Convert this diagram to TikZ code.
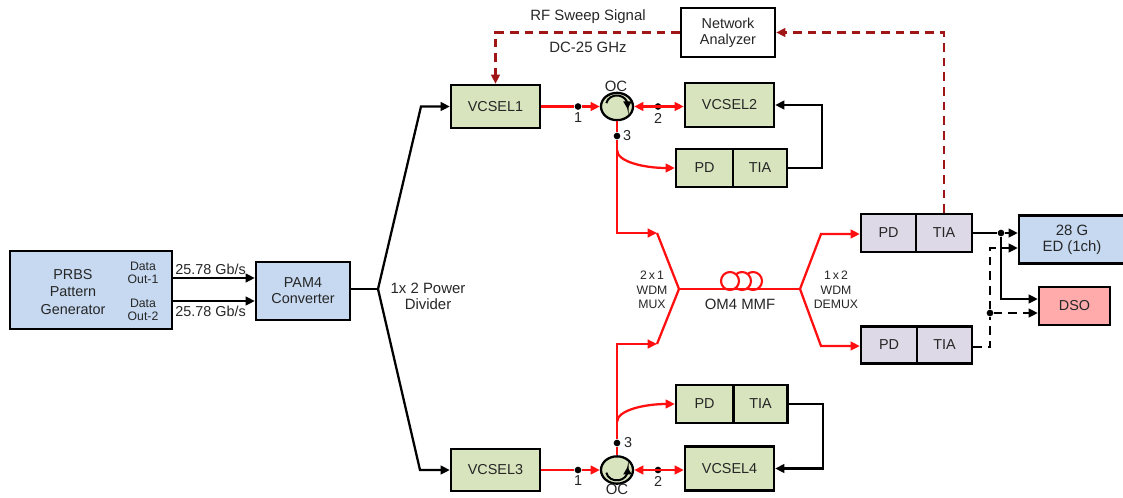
\documentclass[tikz,border=0pt]{standalone}
\usepackage{fontspec}
\setmainfont{Liberation Sans}
\usetikzlibrary{arrows.meta,calc,shapes.geometric}
\definecolor{gbox}{HTML}{D7E4BD}
\definecolor{bbox}{HTML}{C6D9F1}
\definecolor{lbox}{HTML}{DDD9E6}
\definecolor{pbox}{HTML}{FFABAB}
\definecolor{rline}{HTML}{FF0F0F}
\definecolor{dred}{HTML}{A01515}
\definecolor{txt}{HTML}{262626}
\tikzset{
  bx/.style n args={2}{draw=black,line width=1.7pt,inner sep=0pt,align=center,text=txt,
     minimum width=#1*0.75pt,minimum height=#2*0.75pt,font=\fontsize{10.8}{12}\selectfont},
  lbl/.style={inner sep=0pt,align=center,text=txt,font=\fontsize{10.8}{12}\selectfont},
  wide/.style={inner sep=0pt,align=center,text=txt,font=\fontsize{11.2}{12}\selectfont},
  sm/.style={inner sep=0pt,align=center,text=txt,font=\fontsize{9.2}{10}\selectfont},
  redl/.style={draw=rline,line width=1.7pt,line join=miter},
  blk/.style={draw=black,line width=1.7pt},
  rdash/.style={draw=dred,line width=1.7pt,dash pattern=on 6.5pt off 4.5pt},
  kdash/.style={draw=black,line width=1.7pt,dash pattern=on 6.5pt off 4.5pt},
  tip/.style={-{Triangle[length=7pt,width=6.5pt]}},
  dbl/.style={{Triangle[length=7pt,width=6.5pt]}-{Triangle[length=7pt,width=6.5pt]}},
  dotn/.style={circle,fill=black,inner sep=0pt,minimum size=5pt},
  ocn/.style={ellipse,draw=black,line width=1.7pt,fill=gbox,inner sep=0pt,minimum width=24pt,minimum height=20.5pt},
}
\begin{document}
\begin{tikzpicture}[x=0.75pt,y=-0.75pt]
\useasboundingbox (0,0) rectangle (1123,497);
% boxes
\node[bx={162}{78},fill=bbox] (prbs) at (91,290) {};
\node[lbl] (prbst) at (73,292) {PRBS\\[0.9pt]Pattern\\[0.9pt]Generator};
\node[sm] (o1) at (143,272.5) {Data\\Out-1};
\node[sm] (o2) at (143,309.5) {Data\\Out-2};
\node[bx={94}{58},fill=bbox] (pam) at (303,291) {PAM4\\Converter};
\node[bx={89}{43},fill=gbox] (v1) at (495.5,106.5) {VCSEL1};
\node[bx={89}{44},fill=gbox] (v2) at (729.5,105) {VCSEL2};
\node[bx={89}{42},fill=gbox] (v3) at (495.5,470) {VCSEL3};
\node[bx={89}{44},fill=gbox] (v4) at (729.5,468.5) {VCSEL4};
\node[bx={57}{38},fill=gbox] (pd1) at (704.5,168) {PD};
\node[bx={54}{38},fill=gbox] (tia1) at (760,168) {TIA};
\node[bx={57}{38},fill=gbox] (pd2) at (704.5,404) {PD};
\node[bx={54}{38},fill=gbox] (tia2) at (760.5,404) {TIA};
\node[bx={94}{49},fill=white] (na) at (728,32.5) {Network\\Analyzer};
\node[bx={55}{38},fill=lbox] (pd3) at (888.5,233) {PD};
\node[bx={56}{38},fill=lbox] (tia3) at (944,233) {TIA};
\node[bx={56}{37},fill=lbox] (pd4) at (889,345) {PD};
\node[bx={55}{37},fill=lbox] (tia4) at (944.5,345) {TIA};
\node[bx={106}{48},fill=bbox,font=\fontsize{11.2}{12}\selectfont] (ed) at (1072,239.5) {28 G\\ED (1ch)};
\node[bx={71}{38},fill=pbox] (dso) at (1074.5,306) {DSO};
% circulators
\node[ocn] (oc1) at (617,106.5) {};
\node[ocn] (oc2) at (617,470) {};
\draw[line width=1.5pt,-{Triangle[length=5.5pt,width=6pt]}] ($(oc1)+(-8pt,2.5pt)$) arc[start angle=170,end angle=0,x radius=8pt,y radius=7pt] -- ++(0,-3pt);
\draw[line width=1.5pt,-{Triangle[length=5.5pt,width=6pt]}] ($(oc2)+(-8pt,-2pt)$) arc[start angle=190,end angle=360,x radius=8pt,y radius=7pt] -- ++(0,3pt);
% connection points
\node[dotn] (a1) at (578,106.5) {};
\node[dotn] (a2) at (658,106.5) {};
\node[dotn] (a3) at (617,136) {};
\node[dotn] (b1) at (578,470) {};
\node[dotn] (b2) at (658,470) {};
\node[dotn] (b3) at (617,443) {};
\node[dotn] (k1) at (1001,233) {};
\node[dotn] (k2) at (990,313) {};
\coordinate (mxa) at (657,233);
\coordinate (mxb) at (657,344);
\coordinate (mxc) at (679,289);
\coordinate (dmc) at (800,289);
\coordinate (dma) at (821,234);
\coordinate (dmb) at (821,346);
\coordinate (spl) at (378,289);
\coordinate (spa) at (421,106.5);
\coordinate (spb) at (420,470);
% fibre coil
\node[circle,draw=rline,line width=1.6pt,fill=white,minimum size=13.5pt,inner sep=0pt] (c3) at (753,281) {};
\node[circle,draw=rline,line width=1.6pt,fill=white,minimum size=13.5pt,inner sep=0pt] (c2) at (742,281) {};
\node[circle,draw=rline,line width=1.6pt,fill=white,minimum size=13.5pt,inner sep=0pt] (c1) at (730,281) {};
% black links
\draw[blk,tip] (prbs.east |- 0,278) -- (pam.west |- 0,278);
\draw[blk,tip] (prbs.east |- 0,301) -- (pam.west |- 0,301);
\draw[blk] (pam.east |- spl) -- (spl);
\draw[blk,tip] (spl) -- (spa) -- (v1.west);
\draw[blk,tip] (spl) -- (spb) -- (v3.west);
\draw[blk,tip] (tia1.east) -- (822,168) -- (822,105) -- (v2.east);
\draw[blk,tip] (tia2.east) -- (823,404) -- (823,468.5) -- (v4.east);
\draw[blk] (tia3.east) -- (k1);
\draw[blk,tip] (k1) -- (ed.west |- k1);
\draw[blk,tip] (k1) |- (dso.west |- 0,299);
\draw[kdash] (tia4.east |- 0,347) -- (990,347) -- (k2);
\draw[kdash,tip] (k2) |- (ed.west |- 0,248);
\draw[kdash,tip] (k2) -- (dso.west |- k2);
% dark red links
\draw[rdash,tip] (na.west) -| (v1.north);
\draw[rdash,tip] (tia3.north) |- (na.east);
% red links
\draw[redl] (v1.east) -- (a1);
\draw[redl,tip] (a1) -- (oc1.west);
\draw[redl,dbl] (oc1.east) -- (v2.west |- oc1.east);
\draw[redl] (oc1.south) -- (a3);
\draw[redl,tip] (a3) |- (mxa);
\draw[redl,tip] (617,150) .. controls (617,162) and (645,168) .. (pd1.west);
\draw[redl] (v3.east) -- (b1);
\draw[redl,tip] (b1) -- (oc2.west);
\draw[redl,dbl] (oc2.east) -- (v4.west |- oc2.east);
\draw[redl] (oc2.north) -- (b3);
\draw[redl,tip] (b3) |- (mxb);
\draw[redl,tip] (617,422) .. controls (617,410) and (645,404) .. (pd2.west);
\draw[redl] (mxa) -- (mxc) -- (mxb);
\draw[redl] (mxc) -- (dmc);
\draw[redl,tip] (dmc) -- (dma) -- (pd3.west |- dma);
\draw[redl,tip] (dmc) -- (dmb) -- (pd4.west |- dmb);
% labels
\node[wide] (t1) at (588,17) {RF Sweep Signal};
\node[wide] (t2) at (588,47) {DC-25 GHz};
\node[lbl] (t3) at (210.5,269) {25.78 Gb/s};
\node[lbl] (t4) at (210.5,311) {25.78 Gb/s};
\node[wide] (t5) at (428,296.5) {1x 2 Power\\Divider};
\node[wide] (t6) at (740,304) {OM4 MMF};
\node[sm] (t7) at (652,290) {2\,x\,1\\[1.2pt]WDM\\[0.2pt]MUX};
\node[sm] (t8) at (836,290) {1\,x\,2\\[1.2pt]WDM\\[0.2pt]DEMUX};
\node[wide] (oct1) at (616,86) {OC};
\node[wide] (oct2) at (617,489.5) {OC};
\node[lbl] (n1) at (578,118) {1};
\node[lbl] (n2) at (658,118) {2};
\node[lbl] (n3) at (627,136) {3};
\node[lbl] (m1) at (578,481) {1};
\node[lbl] (m2) at (658,481) {2};
\node[lbl] (m3) at (628,443) {3};
\end{tikzpicture}
\end{document}
